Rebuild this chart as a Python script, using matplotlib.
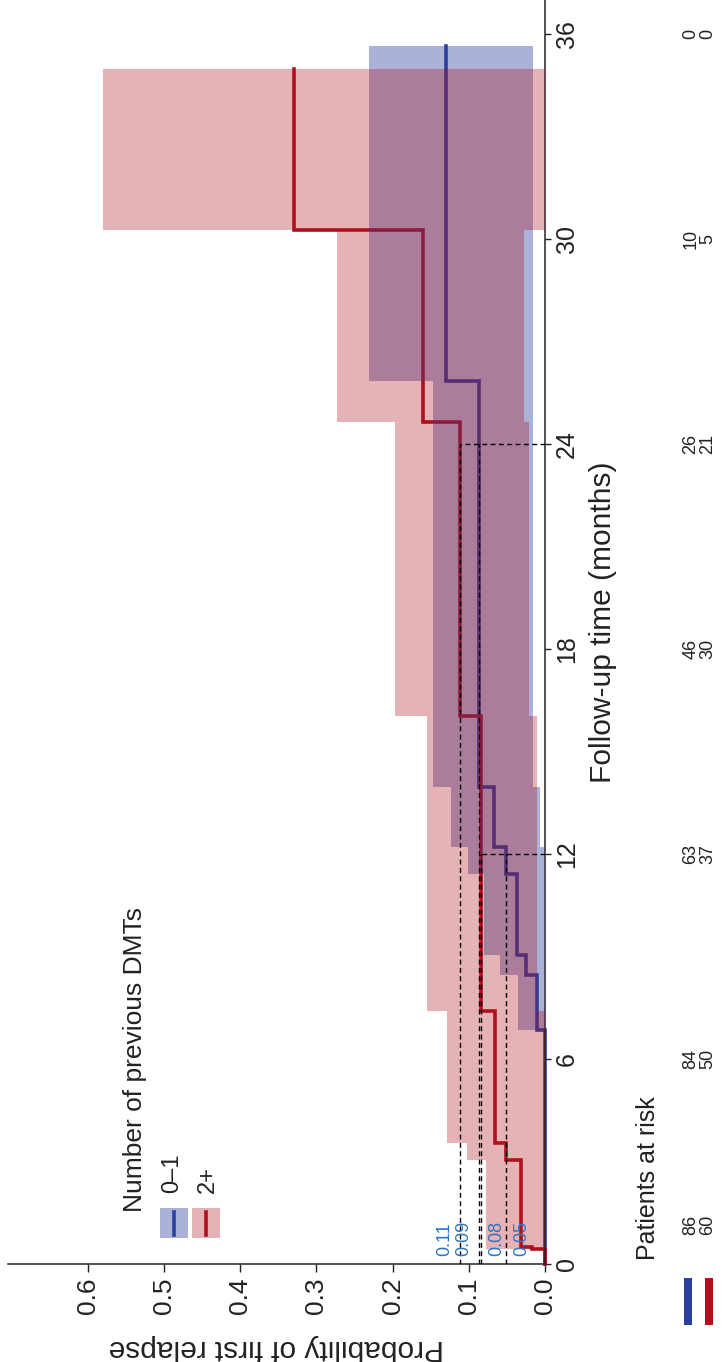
import numpy as np
import matplotlib.pyplot as plt
from matplotlib.patches import Rectangle
from matplotlib.transforms import blended_transform_factory

plt.rcParams['font.family'] = ['Liberation Sans', 'DejaVu Sans']

# cumulative incidence of first relapse: step change times (months) and levels
groups = ['0–1', '2+']
t_low = [6.85, 8.46, 9.04, 11.43, 12.21, 13.97, 25.85]
p_low = [0.0, 0.0103, 0.0243, 0.0366, 0.051, 0.067, 0.086, 0.130]
lo_low = [0.0, 0.0, 0.0, 0.0, 0.0, 0.007, 0.016, 0.016]
hi_low = [0.0, 0.035, 0.0586, 0.0805, 0.101, 0.123, 0.147, 0.231]
end_low = 35.65

t_high = [0.43, 0.51, 3.04, 3.55, 7.41, 16.04, 24.65, 30.28]
p_high = [0.0, 0.017, 0.032, 0.0506, 0.065, 0.084, 0.111, 0.160, 0.329]
lo_high = [0.0, 0.0, 0.0, 0.0, 0.0, 0.010, 0.021, 0.028, 0.0]
hi_high = [0.0, 0.077, 0.077, 0.103, 0.129, 0.155, 0.197, 0.273, 0.58]
end_high = 34.98

landmarks = [12, 24]
label_side = [-1, 1]

risk_times = [0, 6, 12, 18, 24, 30, 36]
risk_low = [86, 84, 63, 46, 26, 10, 0]
risk_high = [60, 50, 37, 30, 21, 5, 0]

blue = '#2b3f9f'
red = '#b0101c'
label_blue = '#2f74c0'

W, H = 722, 1362


def fx(px):
    return px / W


def fy(py):
    return 1 - py / H


def stairs(changes, levels, end):
    T = np.concatenate([[0.0], changes, [end]])
    return np.repeat(levels, 2), np.repeat(T, 2)[1:-1]


def level_at(t, changes, levels):
    return levels[np.searchsorted(changes, t, side='right')]


fig = plt.figure(figsize=(W / 100, H / 100), dpi=100)
ax = fig.add_axes([fx(8), fy(1264), fx(545) - fx(8), fy(0) - fy(1264)])
ax.set_xlim(0.705, 0)
ax.set_ylim(0, 37)

curves = [(t_low, p_low, lo_low, hi_low, end_low, blue),
          (t_high, p_high, lo_high, hi_high, end_high, red)]
for i, (tc, p, lo, hi, end, col) in enumerate(curves):
    xs, ys = stairs(tc, p, end)
    ax.plot(xs, ys, color=col, lw=2.6, zorder=2, clip_on=False,
            solid_joinstyle='miter')
for i, (tc, p, lo, hi, end, col) in enumerate(curves):
    lx, ys = stairs(tc, lo, end)
    hx, _ = stairs(tc, hi, end)
    alpha = 0.4 if col == blue else 0.32
    ax.fill_betweenx(ys, lx, hx, color=col, alpha=alpha, lw=0, zorder=3 + i)

# landmark probabilities at 12 and 24 months
for t, side in zip(landmarks, label_side):
    vals = [level_at(t, tc, p) for tc, p, *_ in curves]
    ax.plot([0, max(vals)], [t, t], color='k', lw=1, dashes=(3.5, 2.5), zorder=6)
    for v in vals:
        ax.plot([v, v], [0, t], color='k', lw=1, dashes=(3.5, 2.5), zorder=6)
        ax.annotate(f'{v:.2f}', (v, 0), xytext=(-side * 11, 6),
                    textcoords='offset points', rotation=90, ha='center',
                    va='bottom', fontsize=13, color=label_blue, zorder=7)

for s in ['top', 'left']:
    ax.spines[s].set_visible(False)
for s in ['right', 'bottom']:
    ax.spines[s].set_linewidth(1.1)
    ax.spines[s].set_color('#222222')

ax.set_xticks(np.arange(0, 0.61, 0.1))
ax.set_xticklabels([f'{v:.1f}' for v in np.arange(0, 0.61, 0.1)])
ax.set_yticks(risk_times)
ax.yaxis.tick_right()
ax.tick_params(axis='x', length=5.5, width=1, labelsize=19, labelrotation=90,
               pad=4, colors='#222222')
ax.tick_params(axis='y', length=4, width=1, labelsize=18, labelrotation=90,
               pad=3, colors='#222222')
for lbl in ax.get_yticklabels():
    lbl.set_va('center')

fig.text(fx(603), fy(622), 'Follow-up time (months)', rotation=90,
         ha='center', va='center', fontsize=21.5, color='#222222')
fig.text(fx(276), fy(1348), 'Probability of first relapse', rotation=180,
         ha='center', va='center', fontsize=21.5, color='#222222')

# legend
fig.text(fx(135), fy(1212), 'Number of previous DMTs', rotation=90,
         ha='center', va='bottom', fontsize=19, color='#222222')
key_x = [160, 192]
lab_x = [172, 208]
for kx, lx, g, (_, _, _, _, _, col) in zip(key_x, lab_x, groups, curves):
    alpha = 0.4 if col == blue else 0.32
    fig.patches.append(Rectangle((fx(kx), fy(1238)), fx(28), 30 / H,
                                 transform=fig.transFigure, color=col,
                                 alpha=alpha, lw=0))
    fig.add_artist(plt.Line2D([fx(kx + 14)] * 2, [fy(1235), fy(1212)],
                              transform=fig.transFigure, color=col, lw=2.6))
    fig.text(fx(lx), fy(1193), g, rotation=90, ha='center', va='bottom',
             fontsize=17, color='#222222')

# numbers at risk
risk_tr = blended_transform_factory(fig.transFigure, ax.transData)
fig.text(fx(648), fy(1260), 'Patients at risk', rotation=90, ha='center',
         va='bottom', fontsize=18, color='#222222')
for col_x, counts, col, bx in [(690.7, risk_low, blue, 684), (708, risk_high, red, 705)]:
    for t, n in zip(risk_times, counts):
        shift = 28 if t == 0 else 0
        ax.annotate(str(n), (fx(col_x), t), xycoords=risk_tr,
                    xytext=(0, shift), textcoords='offset points',
                    rotation=90, ha='center', va='center', fontsize=13,
                    color='#222222', annotation_clip=False)
    fig.patches.append(Rectangle((fx(bx), fy(1325)), fx(8), 47 / H,
                                 transform=fig.transFigure, color=col, lw=0))

fig.savefig('out.png', dpi=100)
